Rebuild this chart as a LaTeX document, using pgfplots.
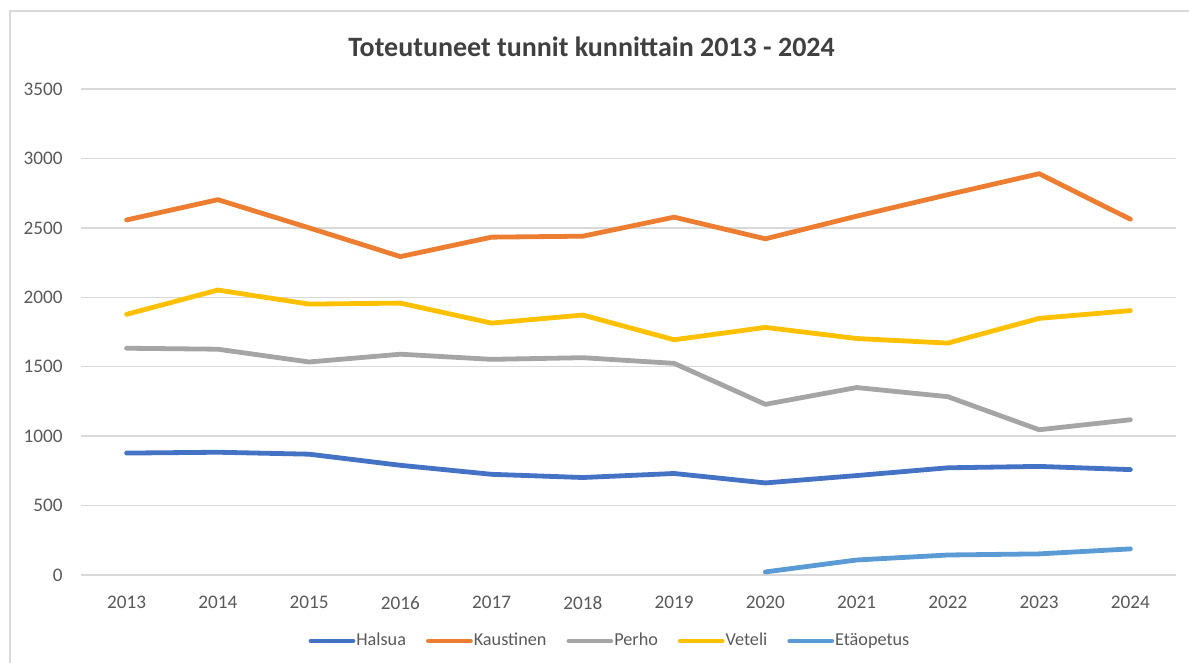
\documentclass[border=0pt]{standalone}
\usepackage{fontspec}
\setmainfont{Carlito}
\usepackage{pgfplots}
\pgfplotsset{compat=1.18}
\definecolor{cHal}{HTML}{4472C4}
\definecolor{cKau}{HTML}{ED7D31}
\definecolor{cPer}{HTML}{A5A5A5}
\definecolor{cVet}{HTML}{FFC000}
\definecolor{cEta}{HTML}{5B9BD5}
\definecolor{txt}{HTML}{595959}
\definecolor{ttl}{HTML}{404040}
\definecolor{grd}{HTML}{D9D9D9}
\begin{document}
\begin{tikzpicture}
\path[use as bounding box] (0,0) rectangle (594.5pt,331.5pt);
\draw[grd, line width=0.8pt] (5pt,0pt) -- (5pt,326pt) -- (594.5pt,326pt);
\begin{axis}[
  scale only axis,
  anchor=south west,
  at={(40.5pt,44pt)},
  width=547.5pt, height=243pt,
  xmin=2012.5, xmax=2024.5,
  ymin=0, ymax=3500,
  xtick={2013,...,2024},
  ytick={0,500,...,3500},
  xticklabel={\pgfmathprintnumber[/pgf/number format/1000 sep={}]{\tick}},
  /pgf/number format/assume math mode=true,
  /pgf/number format/1000 sep={},
  axis line style={draw=none},
  major tick length=0pt,
  ymajorgrids,
  major grid style={grd, line width=0.75pt},
  tick label style={font=\fontsize{9.6pt}{11pt}\selectfont, text=txt},
  yticklabel style={anchor=east, inner sep=0pt, xshift=-9pt},
  xticklabel style={anchor=north, inner sep=0pt, yshift=-10.5pt},
  clip=false,
  legend columns=5,
  legend style={draw=none, fill=none, at={(rel axis cs:0.4826,-0.1358)}, anchor=center,
    font=\fontsize{9.1pt}{10pt}\selectfont, text=txt,
    nodes={inner sep=0.5pt},
    /tikz/every even column/.append style={column sep=9.5pt},
    /tikz/every odd column/.append style={column sep=0pt},
    inner sep=0pt},
  legend cell align=left,
  legend image code/.code={\draw[#1, line width=2.4pt, line cap=round] (0pt,0pt) -- (21pt,0pt);},
  every axis plot/.append style={line width=2.4pt, line join=round, line cap=round},
]
\addplot[cHal] coordinates {(2013,878) (2014,884) (2015,870) (2016,790) (2017,725) (2018,702) (2019,731) (2020,663) (2021,716) (2022,772) (2023,782) (2024,759)};
\addlegendentry{Halsua}
\addplot[cKau] coordinates {(2013,2557) (2014,2703) (2015,2500) (2016,2293) (2017,2433) (2018,2440) (2019,2577) (2020,2421) (2021,2584) (2022,2739) (2023,2890) (2024,2562)};
\addlegendentry{Kaustinen}
\addplot[cPer] coordinates {(2013,1633) (2014,1626) (2015,1534) (2016,1590) (2017,1553) (2018,1565) (2019,1524) (2020,1229) (2021,1350) (2022,1284) (2023,1046) (2024,1118)};
\addlegendentry{Perho}
\addplot[cVet] coordinates {(2013,1877) (2014,2052) (2015,1951) (2016,1958) (2017,1814) (2018,1872) (2019,1694) (2020,1783) (2021,1703) (2022,1670) (2023,1848) (2024,1904)};
\addlegendentry{Veteli}
\addplot[cEta] coordinates {(2020,22) (2021,108) (2022,144) (2023,152) (2024,188)};
\addlegendentry{Etäopetus}
\end{axis}
\node[font=\bfseries\fontsize{14pt}{16pt}\selectfont, text=ttl] at (295.75pt,308pt) {Toteutuneet tunnit kunnittain 2013 - 2024};
\end{tikzpicture}
\end{document}
